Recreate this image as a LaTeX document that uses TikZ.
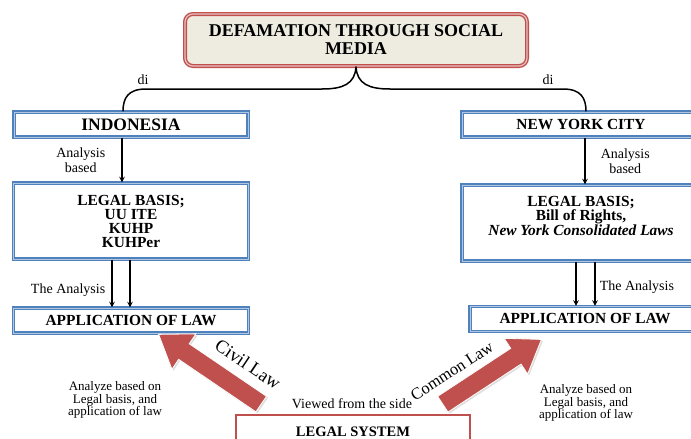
\documentclass[tikz,border=0pt]{standalone}
\usepackage{fontspec}
\setmainfont{Liberation Serif}
\usetikzlibrary{arrows, shapes.arrows, shadows}

\definecolor{boxblue}{RGB}{79,129,189}
\definecolor{boxred}{RGB}{192,80,77}
\definecolor{titlefill}{RGB}{238,236,225}

\begin{document}
\begin{tikzpicture}[
            x = 1pt, y = -1pt, % one unit is one pixel, y runs down
            > = stealth, % arrow head style
            line width = 1.5pt % line style
        ]

        \tikzstyle{every node}=[inner sep = 0pt]
        \tikzstyle{bluebox}=[
            draw = boxblue,
            line width = 1.1pt,
            double = boxblue!45,
            double distance = 0.9pt,
            fill = white,
            align = center,
            font = \bfseries\fontsize{15.4}{14}\selectfont
        ]
        \tikzstyle{titlebox}=[
            draw = boxred,
            line width = 1.4pt,
            double = boxred!35,
            double distance = 1.2pt,
            fill = titlefill,
            rounded corners = 8pt,
            align = center,
            font = \bfseries\fontsize{18}{18}\selectfont
        ]
        \tikzstyle{smalltext}=[align = center, font = \fontsize{14}{14.5}\selectfont]
        \tikzstyle{notetext}=[align = center, font = \fontsize{13}{12.5}\selectfont]
        \tikzstyle{bigarrow}=[
            single arrow,
            fill = boxred,
            draw = white,
            line width = 0.8pt,
            inner xsep = 0pt,
            inner ysep = 9pt,
            minimum width = 42pt,
            single arrow head extend = 12pt,
            single arrow tip angle = 70,
            drop shadow = {shadow xshift = 1.5pt, shadow yshift = -1.5pt, fill = gray!50}
        ]
        \tikzstyle{arttext}=[font = \fontsize{18.5}{18}\selectfont]

        \fill[white] (0,0) rectangle (691,439);
        \useasboundingbox (0,0) rectangle (691,439);

        \node[titlebox, minimum width = 342pt, minimum height = 52pt] (title) at (356,40)
            {DEFAMATION THROUGH SOCIAL\\MEDIA};

        \node[bluebox, minimum width = 234pt, minimum height = 25pt,
            font = \bfseries\fontsize{17.5}{16}\selectfont] (indo) at (131,124.5) {INDONESIA};
        \node[bluebox, minimum width = 238pt, minimum height = 25pt] (nyc) at (581,124.5) {NEW YORK CITY};

        \node[bluebox, minimum width = 235pt, minimum height = 76pt, node distance = 96.5pt]
            (basisL) [below of = indo] {LEGAL BASIS;\\UU ITE\\KUHP\\KUHPer};
        \node[bluebox, minimum width = 238pt, minimum height = 76pt, node distance = 98.5pt]
            (basisR) [below of = nyc] {LEGAL BASIS;\\Bill of Rights,\\\textit{New York Consolidated Laws}\\\mbox{}};

        \node[bluebox, minimum width = 235pt, minimum height = 25pt, node distance = 99.5pt]
            (appL) [below of = basisL] {APPLICATION OF LAW};
        \node[bluebox, minimum width = 230pt, minimum height = 25pt, node distance = 96pt, xshift = 4pt]
            (appR) [below of = basisR] {APPLICATION OF LAW};

        \node[draw = boxred, line width = 1.8pt, minimum width = 234pt, minimum height = 34pt,
            font = \bfseries\fontsize{14.5}{14}\selectfont] (system) at (353,432) {LEGAL SYSTEM};

        % brace from the title down to both places
        \draw (title.south) .. controls (355,84) and (343,89) .. (322,89)
            -- (146,89) .. controls (128,89) and (123,98) .. (indo.north -| 123,0);
        \draw (title.south) .. controls (357,84) and (369,89) .. (390,89)
            -- (563,89) .. controls (581,89) and (586,98) .. (nyc.north -| 586,0);
        \node[smalltext] (diL) at (143,80) {di};
        \node[smalltext] (diR) at (548,80) {di};

        \path[->] (indo.south -| 122,0) edge node[smalltext, left = 16pt] {Analysis\\based} (basisL.north -| 122,0);
        \path[->] (nyc.south -| 585,0) edge node[smalltext, right = 15pt] {Analysis\\based} (basisR.north -| 585,0);

        \path[->] (basisL.south -| 112,0) edge node[smalltext, left = 6pt, pos = 0.63] {The Analysis} (appL.north -| 112,0);
        \path[->] (basisL.south -| 130,0) edge (appL.north -| 130,0);
        \path[->] (basisR.south -| 576,0) edge (appR.north -| 576,0);
        \path[->] (basisR.south -| 595,0) edge node[smalltext, right = 4pt, pos = 0.58] {The Analysis} (appR.north -| 595,0);

        % the two systems
        \node[bigarrow, minimum height = 124pt, rotate = 145.8] (civil) at (215.5,373) {};
        \node[bigarrow, minimum height = 118pt, rotate = 33.3] (common) at (486.5,375.5) {};
        \node[arttext, rotate = -34] (civilLbl) at (248,364) {Civil Law};
        \node[arttext, rotate = 33, font = \fontsize{16.5}{18}\selectfont] (commonLbl) at (452,371) {Common Law};

        \node[smalltext] (viewed) at (352,404) {Viewed from the side};
        \node[notetext] (noteL) at (115,400) {Analyze based on\\Legal basis, and\\application of law};
        \node[notetext] (noteR) at (586,403) {Analyze based on\\Legal basis, and\\application of law};

  \end{tikzpicture}
\end{document}
